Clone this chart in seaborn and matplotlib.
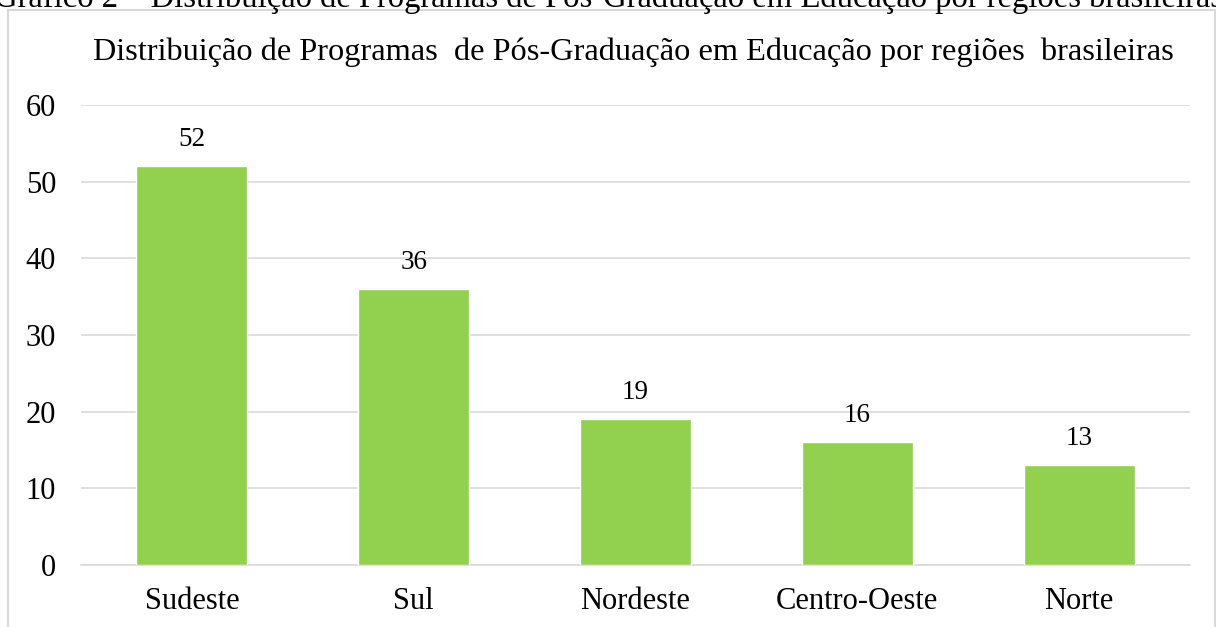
import matplotlib
matplotlib.use("Agg")
import matplotlib.pyplot as plt
import seaborn as sns
import pandas as pd
from matplotlib.patches import Rectangle

regions = ["Sudeste", "Sul", "Nordeste", "Centro-Oeste", "Norte"]
programas = [52, 36, 19, 16, 13]
yticks = [0, 10, 20, 30, 40, 50, 60]
title = "Distribuição de Programas  de Pós-Graduação em Educação por regiões  brasileiras"
caption = "Gráfico 2 – Distribuição de Programas de Pós-Graduação em Educação por regiões brasileiras"

sns.set_theme(style="white")
plt.rcParams['font.family'] = ['Liberation Serif', 'DejaVu Serif']
plt.rcParams['text.color'] = 'black'

df = pd.DataFrame({"regiao": regions, "n": programas})

W, H = 1216, 627
fig = plt.figure(figsize=(W / 100, H / 100), dpi=100)
ax = fig.add_axes([81 / W, (H - 565) / H, (1190 - 81) / W, (565 - 105) / H])

sns.barplot(data=df, x="regiao", y="n", color="#92D050", width=0.5,
            saturation=1, ax=ax, zorder=3)

ax.set_ylim(0, 60)
ax.set_yticks(yticks)
ax.yaxis.grid(True, color="#D9D9D9", linewidth=1.2, zorder=0)
ax.set_axisbelow(True)
for s in ["top", "right", "left"]:
    ax.spines[s].set_visible(False)
ax.spines["bottom"].set_color("#D9D9D9")
ax.spines["bottom"].set_linewidth(1.2)
ax.set_xlabel("")
ax.set_ylabel("")
ax.tick_params(axis="both", length=0, labelsize=22, colors="black")
ax.tick_params(axis="x", pad=16)
ax.tick_params(axis="y", pad=18)

for c in ax.containers:
    ax.bar_label(c, labels=[str(v) for v in programas], padding=10,
                 fontsize=19.5, color="black")

fig.text(633 / W, 1 - 60 / H, title, ha="center", va="baseline", fontsize=23.3)
fig.text(0.5, 1 - 7 / H, caption, ha="center", va="baseline", fontsize=23.5)

border = Rectangle((8 / W, -0.05), (1215 - 8) / W, 1 - 10 / H + 0.05,
                   transform=fig.transFigure, fill=False,
                   edgecolor="#D9D9D9", linewidth=1.5)
fig.patches.append(border)

fig.savefig("out.png", dpi=100)
